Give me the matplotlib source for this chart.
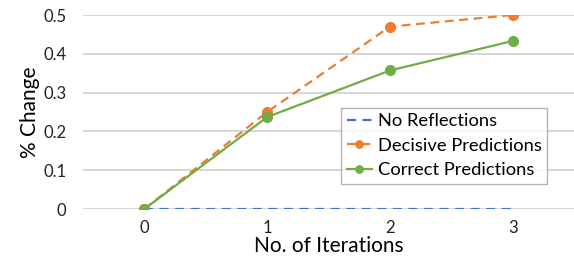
import numpy as np
import matplotlib
matplotlib.use("Agg")
import matplotlib.pyplot as plt

plt.rcParams['font.family'] = ['Lato', 'DejaVu Sans']

iterations = [0, 1, 2, 3]
no_reflections = [0, 0, 0, 0]
decisive = [0, 0.25, 0.47, 0.50]
correct = [0, 0.237, 0.357, 0.433]

fig = plt.figure(figsize=(5.74, 2.6), dpi=100)
ax = fig.add_axes([83 / 574, 51 / 260, 491 / 574, 194 / 260])

ax.plot(iterations, no_reflections, color='#4472C4', linestyle=(0, (4, 3)), linewidth=1.6,
        label='No Reflections')
ax.plot(iterations, decisive, color='#ED7D31', linestyle=(0, (4, 2.5)), linewidth=1.6,
        marker='o', markersize=7, label='Decisive Predictions')
ax.plot(iterations, correct, color='#70AD47', linewidth=1.6,
        marker='o', markersize=7, label='Correct Predictions')

ax.set_xlim(-0.5, 3.5)
ax.set_ylim(0, 0.5)
ax.set_yticks([0, 0.1, 0.2, 0.3, 0.4, 0.5])
ax.set_yticklabels(['0', '0.1', '0.2', '0.3', '0.4', '0.5'])
ax.set_xticks(iterations)
ax.grid(axis='y', color='#d0d0d0', linewidth=1.2)
ax.set_axisbelow(True)
for s in ax.spines.values():
    s.set_visible(False)
ax.tick_params(length=0, labelsize=12, colors='#222222', pad=8)
ax.tick_params(axis='y', pad=12)
ax.set_xlabel('No. of Iterations', fontsize=15, labelpad=0)
ax.set_ylabel('% Change', fontsize=15, labelpad=2)

leg = ax.legend(loc='upper left', bbox_to_anchor=((341 - 83) / 491, (209 - 108) / 194),
                fontsize=13.2, frameon=True, fancybox=False, handlelength=1.4,
                handletextpad=0.3, borderpad=0.3, labelspacing=0.45, borderaxespad=0,
                markerscale=0.75)
leg.get_frame().set_edgecolor('#a0a0a0')
leg.get_frame().set_linewidth(1.0)

fig.savefig('out.png', dpi=100)
